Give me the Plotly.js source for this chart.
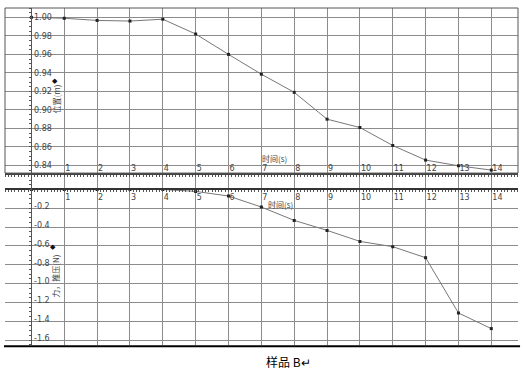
<!DOCTYPE html>
<html>
<head>
<meta charset="utf-8">
<script src="https://cdn.plot.ly/plotly-3.0.1.min.js"></script>
<style>html,body{margin:0;padding:0;background:#fff;}#chart{width:523px;height:371px;}</style>
</head>
<body>
<div id="chart"></div>
<script>
// Data
const timeS = [0, 1, 2, 3, 4, 5, 6, 7, 8, 9, 10, 11, 12, 13, 14];
const positionM = [1.000, 0.999, 0.9967, 0.996, 0.998, 0.982, 0.960, 0.9386, 0.919, 0.890, 0.881, 0.8616, 0.8458, 0.8397, 0.835];
const forceN = [0, 0, 0, 0, 0, -0.021, -0.07, -0.187, -0.329, -0.435, -0.552, -0.608, -0.725, -1.312, -1.478];

const xTickVals = [1, 2, 3, 4, 5, 6, 7, 8, 9, 10, 11, 12, 13, 14];
const xTickText = ["1","2","3","4","5","6","7","8","9","10","11","12","13","14"];
const posTickVals = [0.84, 0.86, 0.88, 0.90, 0.92, 0.94, 0.96, 0.98, 1.00];
const posTickText = ["0.84","0.86","0.88","0.90","0.92","0.94","0.96","0.98","1.00"];
const forceTickVals = [-0.2, -0.4, -0.6, -0.8, -1.0, -1.2, -1.4, -1.6];
const forceTickText = ["-0.2","-0.4","-0.6","-0.8","-1.0","-1.2","-1.4","-1.6"];

const xTitle = "时间(s)";
const posTitle = "位置(m)";
const forceTitle = "力，推压(N)";
const legendMark = "◆";
const caption = "样品 B↵";

const tickFont = {family: "DejaVu Sans", size: 8, color: "#444"};
const cjkFont = {family: "Noto Sans CJK SC", size: 8, color: "#444"};
const gridColor = "#8c8c8c";
const xRange = [-0.804, 14.813];

const traces = [
  {x: timeS, y: positionM, xaxis: "x", yaxis: "y", mode: "lines+markers",
   line: {color: "#777", width: 1}, marker: {color: "#222", size: 3, symbol: "square"},
   hoverinfo: "skip", showlegend: false},
  {x: timeS, y: forceN, xaxis: "x2", yaxis: "y2", mode: "lines+markers",
   line: {color: "#777", width: 1}, marker: {color: "#222", size: 3, symbol: "square"},
   hoverinfo: "skip", showlegend: false}
];

const topBottom = 0.5102;
const botTop = 0.4993;
const zeroPos = 0.4616;
const yAxisPos = 0.0515;

const layout = {
  width: 523, height: 371,
  margin: {l: 5, r: 5, t: 8, b: 25.5, pad: 0},
  paper_bgcolor: "#fff", plot_bgcolor: "#fff",
  showlegend: false,
  xaxis: {
    domain: [0, 1], range: xRange, anchor: "y", side: "bottom",
    tickmode: "array", tickvals: xTickVals, ticktext: xTickText,
    ticklabelposition: "outside right", ticklabelstandoff: -14, ticks: "", tickfont: tickFont,
    showgrid: true, gridcolor: gridColor, gridwidth: 1, zeroline: false,
    showline: true, linecolor: "#444", linewidth: 2,
    minor: {tickmode: "linear", tick0: 0, dtick: 0.1, ticks: "outside", ticklen: 2, tickcolor: "#555", showgrid: false},
    automargin: false, fixedrange: true
  },
  yaxis: {
    domain: [topBottom, 1], range: [0.8318, 1.0101], anchor: "free", position: yAxisPos, side: "right",
    tickmode: "array", tickvals: posTickVals, ticktext: posTickText,
    ticks: "", tickfont: tickFont,
    showgrid: true, gridcolor: gridColor, gridwidth: 1, zeroline: false,
    showline: true, linecolor: "#555", linewidth: 1,
    minor: {tickmode: "linear", tick0: 0.84, dtick: 0.005, ticks: "inside", ticklen: 2, tickcolor: "#555", showgrid: false},
    automargin: false, fixedrange: true
  },
  xaxis2: {
    domain: [0, 1], range: xRange, anchor: "free", position: zeroPos, side: "bottom",
    tickmode: "array", tickvals: xTickVals, ticktext: xTickText,
    ticklabelposition: "outside right", ticks: "", tickfont: tickFont,
    showgrid: true, gridcolor: gridColor, gridwidth: 1, zeroline: false,
    showline: true, linecolor: "#333", linewidth: 2,
    minor: {tickmode: "linear", tick0: 0, dtick: 0.1, ticks: "outside", ticklen: 2, tickcolor: "#555", showgrid: false},
    automargin: false, fixedrange: true
  },
  yaxis2: {
    domain: [0, botTop], range: [-1.652, 0.1347], anchor: "free", position: yAxisPos, side: "right",
    tickmode: "array", tickvals: forceTickVals, ticktext: forceTickText,
    ticks: "", tickfont: tickFont, ticklabelshift: -2,
    showgrid: true, gridcolor: gridColor, gridwidth: 1, zeroline: false,
    showline: true, linecolor: "#555", linewidth: 1,
    minor: {tickmode: "linear", tick0: 0, dtick: 0.05, ticks: "inside", ticklen: 2, tickcolor: "#555", showgrid: false},
    automargin: false, fixedrange: true
  },
  shapes: [
    {type: "rect", xref: "paper", yref: "paper", x0: 0, x1: 1, y0: topBottom, y1: 1,
     line: {color: "#555", width: 1}, fillcolor: "rgba(0,0,0,0)", layer: "above"},
    {type: "line", xref: "paper", yref: "paper", x0: -0.002, x1: 1.004, y0: -0.004, y1: -0.004,
     line: {color: "#000", width: 2}}
  ],
  annotations: [
    {xref: "x", yref: "y", x: 6.95, y: 0.8478, xanchor: "left", yanchor: "middle", text: xTitle, showarrow: false, font: cjkFont},
    {xref: "x2", yref: "y2", x: 7.15, y: -0.156, xanchor: "left", yanchor: "middle", text: xTitle, showarrow: false, font: cjkFont},
    {xref: "paper", yref: "paper", x: 0.1005, y: 0.7305, xanchor: "center", yanchor: "middle", text: posTitle, textangle: -90, showarrow: false, font: cjkFont},
    {xref: "paper", yref: "paper", x: 0.0971, y: 0.7825, xanchor: "center", yanchor: "middle", text: legendMark, showarrow: false,
     font: {family: "DejaVu Sans", size: 7, color: "#111"}},
    {xref: "paper", yref: "paper", x: 0.0995, y: 0.2027, xanchor: "center", yanchor: "middle", text: forceTitle, textangle: -90, showarrow: false, font: cjkFont},
    {xref: "paper", yref: "paper", x: 0.0932, y: 0.2915, xanchor: "center", yanchor: "middle", text: legendMark, showarrow: false,
     font: {family: "DejaVu Sans", size: 7, color: "#111"}},
    {xref: "paper", yref: "paper", x: 0.552, y: -0.0489, xanchor: "center", yanchor: "middle", text: caption, showarrow: false,
     font: {family: "Noto Sans CJK SC", size: 12, color: "#000"}}
  ]
};

Plotly.newPlot("chart", traces, layout, {staticPlot: true, displayModeBar: false});
</script>
</body>
</html>
